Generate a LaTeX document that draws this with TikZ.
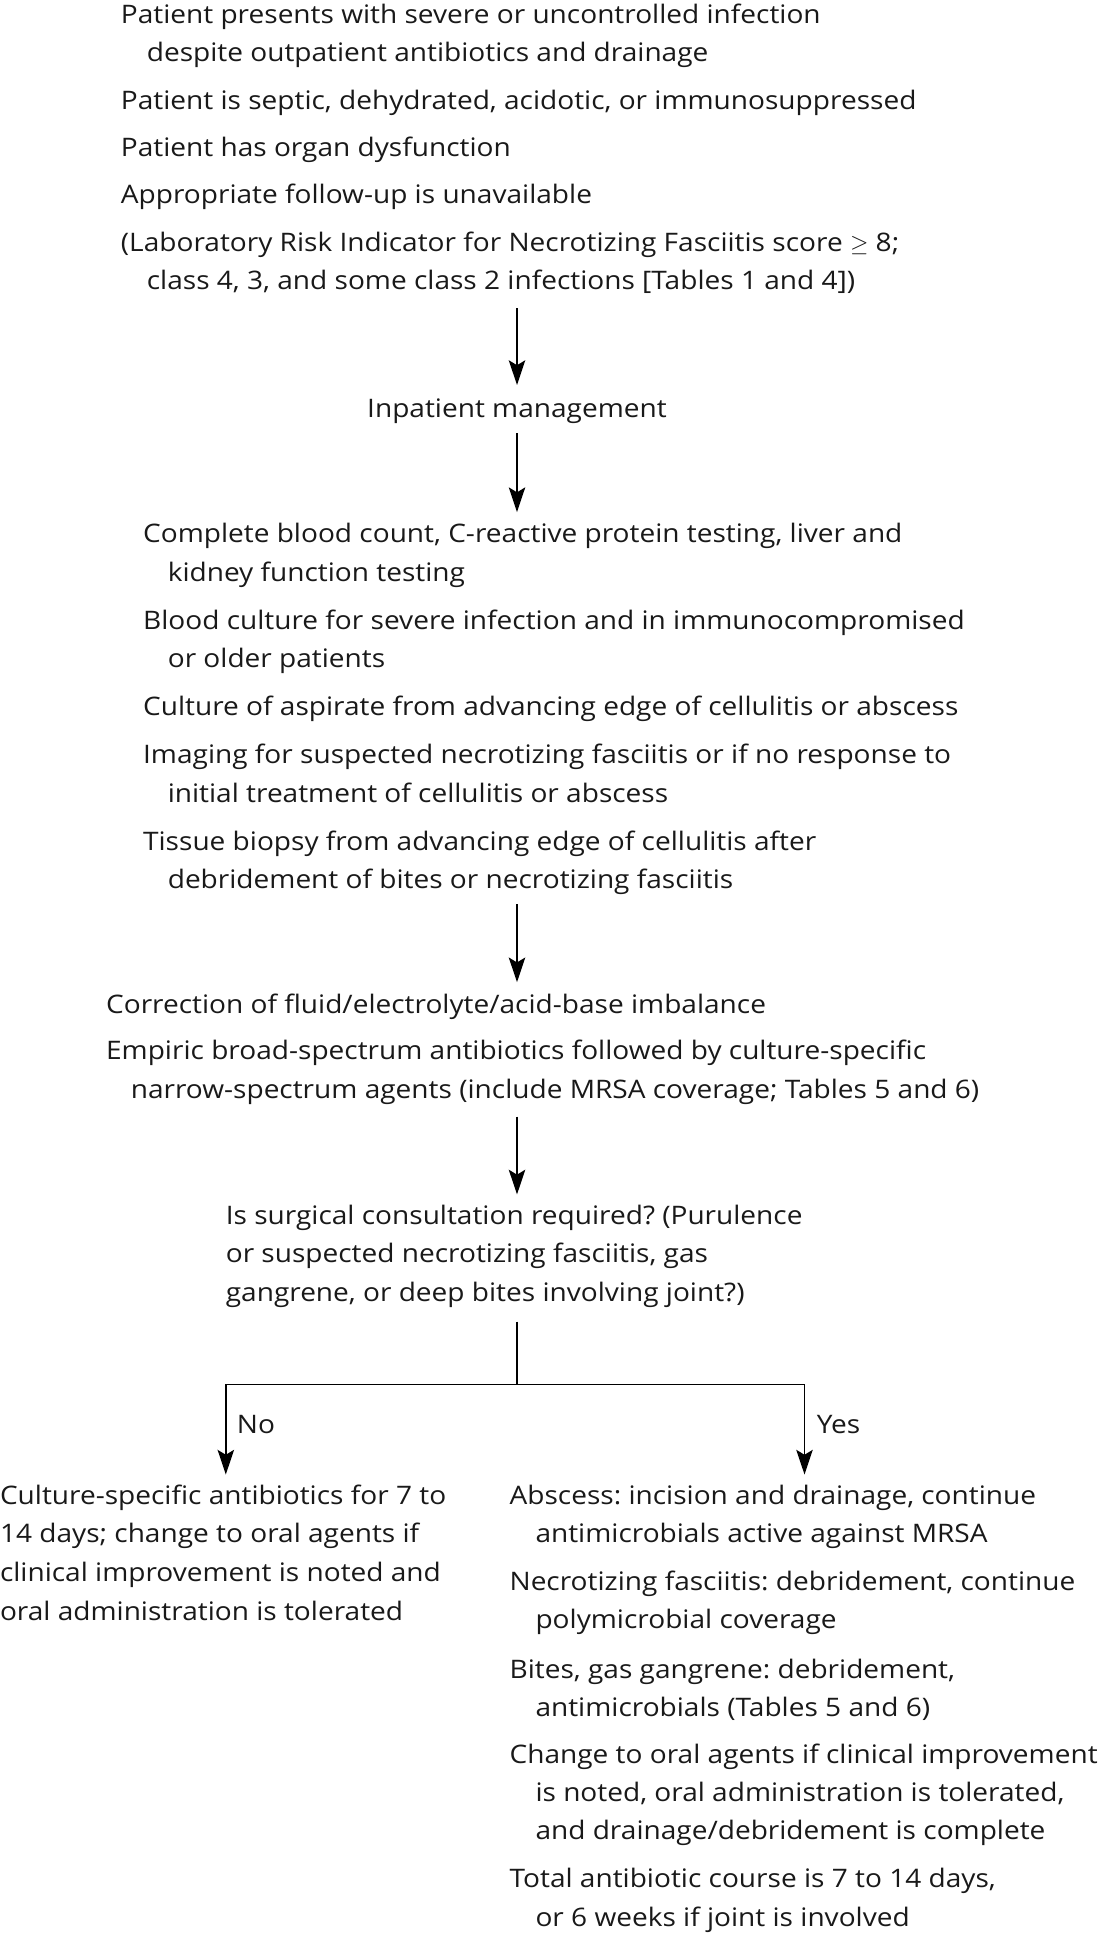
\documentclass[tikz,border=0pt]{standalone}
\usepackage{fontspec}
\setmainfont{Open Sans}[FakeStretch=1.1]
\usetikzlibrary{arrows.meta}
\frenchspacing
\begin{document}
\begin{tikzpicture}[x=0.75pt,y=-0.75pt,
  txt/.style={anchor=base west, inner sep=0pt, outer sep=0pt, text=black!90, font=\fontsize{15.5}{18}\selectfont},
  ctxt/.style={txt, anchor=base},
  conn/.style={line width=0.9pt, black},
  arr/.style={conn, -{Stealth[length=15pt, width=10pt, inset=3pt]}}]
\useasboundingbox (0,0) rectangle (893,1569);
% Block 1
\node[txt] (p1)  at (98,19)  {Patient presents with severe or uncontrolled infection};
\node[txt] (p1b) at (119,50) {despite outpatient antibiotics and drainage};
\node[txt] (p2)  at (98,89)  {Patient is septic, dehydrated, acidotic, or immunosuppressed};
\node[txt] (p3)  at (98,127) {Patient has organ dysfunction};
\node[txt] (p4)  at (98,165) {Appropriate follow-up is unavailable};
\node[txt] (p5)  at (98,204) {(Laboratory Risk Indicator for Necrotizing Fasciitis score $\geq$ 8;};
\node[txt] (p5b) at (119,235) {class 4, 3, and some class 2 infections [Tables 1 and 4])};
% Inpatient
\node[ctxt] (im) at (419,338) {Inpatient management};
% Block 2
\node[txt] (q1)  at (116,440) {Complete blood count, C-reactive protein testing, liver and};
\node[txt] (q1b) at (136,471) {kidney function testing};
\node[txt] (q2)  at (116,510) {Blood culture for severe infection and in immunocompromised};
\node[txt] (q2b) at (136,541) {or older patients};
\node[txt] (q3)  at (116,580) {Culture of aspirate from advancing edge of cellulitis or abscess};
\node[txt] (q4)  at (116,619) {Imaging for suspected necrotizing fasciitis or if no response to};
\node[txt] (q4b) at (136,650) {initial treatment of cellulitis or abscess};
\node[txt] (q5)  at (116,689) {Tissue biopsy from advancing edge of cellulitis after};
\node[txt] (q5b) at (136,720) {debridement of bites or necrotizing fasciitis};
% Block 3
\node[txt] (r1)  at (86,821)  {Correction of fluid/electrolyte/acid-base imbalance};
\node[txt] (r2)  at (86,859)  {Empiric broad-spectrum antibiotics followed by culture-specific};
\node[txt] (r2b) at (106,890) {narrow-spectrum agents (include MRSA coverage; Tables 5 and 6)};
% Block 4
\node[txt] (s1) at (183,992)  {Is surgical consultation required? (Purulence};
\node[txt] (s2) at (183,1023) {or suspected necrotizing fasciitis, gas};
\node[txt] (s3) at (183,1055) {gangrene, or deep bites involving joint?)};
% Branch labels
\node[txt] (no)  at (192,1162) {No};
\node[txt] (yes) at (662,1162) {Yes};
% Left result
\node[txt] (n1) at (0,1219) {Culture-specific antibiotics for 7 to};
\node[txt] (n2) at (0,1250) {14 days; change to oral agents if};
\node[txt] (n3) at (0,1282) {clinical improvement is noted and};
\node[txt] (n4) at (0,1313) {oral administration is tolerated};
% Right result
\node[txt] (y1)  at (413,1219) {Abscess: incision and drainage, continue};
\node[txt] (y1b) at (434,1250) {antimicrobials active against MRSA};
\node[txt] (y2)  at (413,1289) {Necrotizing fasciitis: debridement, continue};
\node[txt] (y2b) at (434,1320) {polymicrobial coverage};
\node[txt] (y3)  at (413,1360) {Bites, gas gangrene: debridement,};
\node[txt] (y3b) at (434,1391) {antimicrobials (Tables 5 and 6)};
\node[txt] (y4)  at (413,1429) {Change to oral agents if clinical improvement};
\node[txt] (y4b) at (434,1460) {is noted, oral administration is tolerated,};
\node[txt] (y4c) at (434,1491) {and drainage/debridement is complete};
\node[txt] (y5)  at (413,1530) {Total antibiotic course is 7 to 14 days,};
\node[txt] (y5b) at (434,1561) {or 6 weeks if joint is involved};
% Connectors
\coordinate (a1s) at (419,250);  \coordinate (a1e) at (419,312);
\coordinate (a2s) at (419,351);  \coordinate (a2e) at (419,415);
\coordinate (a3s) at (419,733);  \coordinate (a3e) at (419,796);
\coordinate (a4s) at (419,905);  \coordinate (a4e) at (419,968);
\coordinate (b0) at (419,1071);  \coordinate (bj) at (419,1122);
\coordinate (tl) at (183,1195);  \coordinate (tr) at (652,1195);
\draw[arr] (a1s) -- (a1e);
\draw[arr] (a2s) -- (a2e);
\draw[arr] (a3s) -- (a3e);
\draw[arr] (a4s) -- (a4e);
\draw[conn] (b0) -- (bj);
\draw[arr] (bj) -| (tl);
\draw[arr] (bj) -| (tr);
\end{tikzpicture}
\end{document}
